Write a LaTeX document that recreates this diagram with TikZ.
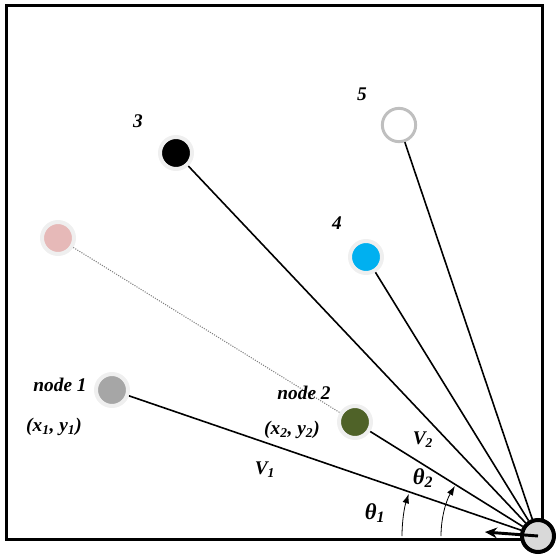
\documentclass[tikz,border=0pt]{standalone}
\usepackage{fontspec}
\setmainfont{Liberation Serif}
\usetikzlibrary{arrows.meta}
\definecolor{glow}{HTML}{EFEFEF}
\definecolor{ngrey}{HTML}{A6A6A6}
\definecolor{npink}{HTML}{E6B9B8}
\definecolor{nblue}{HTML}{00B0F0}
\definecolor{ngreen}{HTML}{4F6228}
\definecolor{nring}{HTML}{BFBFBF}
\definecolor{basefill}{HTML}{D9D9D9}
\begin{document}
\begin{tikzpicture}[x=0.75pt,y=0.75pt,
  dot/.style={circle,inner sep=0pt,minimum size=24pt,draw=glow,line width=3pt},
  lbl/.style={font=\fontsize{14.5}{16}\selectfont\bfseries\itshape,inner sep=0pt},
  link/.style={line width=1.2pt},
  angarc/.style={line width=0.6pt,-{Latex[length=7pt,width=5pt]}}]
\useasboundingbox (0,0) rectangle (559,557);
\draw[line width=2.3pt] (6.5,17.5) rectangle (542.5,551.5);
% nodes
\node[dot,fill=ngrey] (n1) at (112,167) {};
\node[dot,fill=npink] (np) at (58,319) {};
\node[dot,fill=black] (n3) at (176,404) {};
\node[dot,fill=nblue] (n4) at (366,300) {};
\node[dot,fill=ngreen] (n2) at (355,135) {};
\node[circle,inner sep=0pt,minimum size=25pt,draw=nring,line width=2.2pt,fill=white] (n5) at (399,432) {};
\node[circle,inner sep=0pt,minimum size=24pt,draw=black,line width=3pt,fill=basefill] (base) at (538,21) {};
% connectors
\draw[link] (n1) -- (base);
\draw[link] (n2) -- (base);
\draw[link] (n3) -- (base);
\draw[link] (n4) -- (base);
\draw[link] (n5) -- (base);
\draw[densely dotted,gray,line width=0.8pt] (np) -- (n2);
\coordinate (aend) at (485,25);
\draw[line width=2.2pt,-{Stealth[length=9pt,width=8pt]}] (base.center) -- (aend);
% angle arcs
\draw[angarc] (base.center) ++(180:102pt) arc[start angle=180,end angle=162,radius=102pt];
\draw[angarc] (base.center) ++(180:72.75pt) arc[start angle=180,end angle=149,radius=72.75pt];
% labels
\node[lbl] at (60,172) {node 1};
\node[lbl] at (54,130) {(x\textsubscript{1}, y\textsubscript{1})};
\node[lbl] at (304,164) {node 2};
\node[lbl] at (292,127) {(x\textsubscript{2}, y\textsubscript{2})};
\node[lbl] at (138,436) {3};
\node[lbl] at (362,463) {5};
\node[lbl] at (337,334) {4};
\node[lbl] at (265,87) {V\textsubscript{1}};
\node[lbl] at (423,117) {V\textsubscript{2}};
\node[lbl,font=\fontsize{17}{19}\selectfont\bfseries\itshape] at (423,79) {θ\textsubscript{2}};
\node[lbl,font=\fontsize{17}{19}\selectfont\bfseries\itshape] at (375,44) {θ\textsubscript{1}};
\end{tikzpicture}
\end{document}
